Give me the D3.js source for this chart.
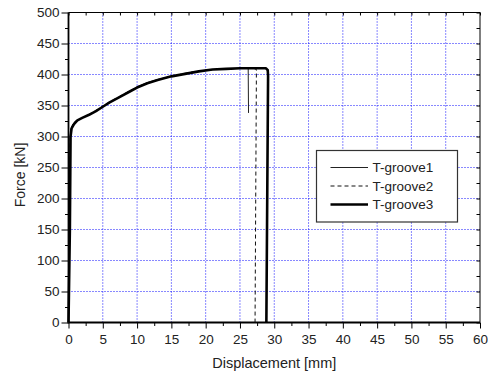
<!DOCTYPE html>
<html>
<head>
<meta charset="utf-8">
<script src="https://cdn.jsdelivr.net/npm/d3@7"></script>
<style>
  body { margin: 0; background: #fff; }
  svg { font-family: "Liberation Sans", Arial, sans-serif; }
</style>
</head>
<body>
<script>
var w = 488;
var h = 376;

// series: displacement [mm] and force [kN]
var g1Disp  = [0, 0.12, 0.22, 0.35, 0.6, 1.0, 2, 3, 4, 5, 6, 7.5, 9, 10, 11.5, 13, 15, 17, 19, 21, 23, 25, 26.2, 26.25];
var g1Force = [0, 150, 295, 312, 319, 325, 330, 335, 341, 348, 355, 364, 373, 380, 387, 392, 397, 401, 405, 408, 409, 410, 410, 338];

var g2Disp  = [0, 0.15, 0.25, 0.4, 0.7, 1.2, 2, 3, 4, 5, 6, 7.5, 9, 10, 11.5, 13, 15, 17, 19, 21, 23, 25, 27, 27.4, 27.2];
var g2Force = [0, 150, 300, 314, 320, 326, 330, 336, 342, 349, 356, 365, 374, 380, 386, 391, 397, 402, 406, 408, 409, 410, 410, 408, 0];

var g3Disp  = [0, 0.2, 0.3, 0.45, 0.8, 1.3, 2, 3, 4, 5, 6, 7.5, 9, 10, 11.5, 13, 15, 17, 19, 21, 23, 25, 27, 28.8, 29.05, 29.1, 28.85];
var g3Force = [0, 150, 300, 313, 320, 326, 330, 335, 341, 348, 355, 364, 373, 379, 386, 391, 397, 401, 405, 408, 409, 410, 410, 410, 407, 398, 0];

var seriesNames = ["T-groove1", "T-groove2", "T-groove3"];
var xTicks = [0, 5, 10, 15, 20, 25, 30, 35, 40, 45, 50, 55, 60];
var yTicks = [0, 50, 100, 150, 200, 250, 300, 350, 400, 450, 500];

var padL = 68.5, padR = 480, padT = 12.5, padB = 322.5;

var x = d3.scaleLinear().domain([0, 60]).range([padL, padR]);
var y = d3.scaleLinear().domain([0, 500]).range([padB, padT]);

var svg = d3.select("body")
            .append("svg")
              .attr("width", w)
              .attr("height", h);

svg.append("rect")
   .attr("width", w)
   .attr("height", h)
   .attr("fill", "#fff");

// dotted blue grid
svg.append("g")
   .selectAll("line")
   .data(xTicks.slice(1, -1))
   .enter()
   .append("line")
     .attr("x1", function(d) { return x(d); })
     .attr("x2", function(d) { return x(d); })
     .attr("y1", padT)
     .attr("y2", padB)
     .attr("stroke", "#1010ff")
     .attr("stroke-dasharray", "1,2");

svg.append("g")
   .selectAll("line")
   .data(yTicks.slice(1, -1))
   .enter()
   .append("line")
     .attr("x1", padL)
     .attr("x2", padR)
     .attr("y1", function(d) { return y(d); })
     .attr("y2", function(d) { return y(d); })
     .attr("stroke", "#1010ff")
     .attr("stroke-dasharray", "1,2");

// minor ticks
var xMinor = d3.range(2.5, 60, 5);
var yMinor = d3.range(25, 500, 50);

function styleAxis(g, fs) {
  g.select(".domain").remove();
  g.selectAll("line").attr("stroke", "#000");
  g.selectAll("text").attr("font-size", fs).attr("fill", "#222").attr("font-family", null);
}

svg.append("g")
   .attr("transform", "translate(0," + padB + ")")
   .call(d3.axisBottom(x).tickValues(xMinor).tickSize(3.5).tickFormat(""))
   .call(styleAxis, "13.5px");
svg.append("g")
   .attr("transform", "translate(0," + padB + ")")
   .call(d3.axisBottom(x).tickValues(xTicks).tickSize(6).tickPadding(6).tickFormat(d3.format("d")))
   .call(styleAxis, "13.5px");

svg.append("g")
   .attr("transform", "translate(" + padL + ",0)")
   .call(d3.axisLeft(y).tickValues(yMinor).tickSize(3.5).tickFormat(""))
   .call(styleAxis, "13.5px");
svg.append("g")
   .attr("transform", "translate(" + padL + ",0)")
   .call(d3.axisLeft(y).tickValues(yTicks).tickSize(7).tickPadding(2).tickFormat(d3.format("d")))
   .call(styleAxis, "13.5px");

// inward ticks on top and right
svg.append("g")
   .attr("transform", "translate(0," + padT + ")")
   .call(d3.axisTop(x).tickValues(xTicks.concat(xMinor)).tickSize(-3).tickFormat(""))
   .call(styleAxis, "13.5px");
svg.append("g")
   .attr("transform", "translate(" + padR + ",0)")
   .call(d3.axisRight(y).tickValues(yTicks.concat(yMinor)).tickSize(-3.5).tickFormat(""))
   .call(styleAxis, "13.5px");

// frame
svg.append("line").attr("x1", padL).attr("x2", padR).attr("y1", padT).attr("y2", padT)
   .attr("stroke", "#000").attr("stroke-width", 1);
svg.append("line").attr("x1", padR).attr("x2", padR).attr("y1", padT).attr("y2", padB)
   .attr("stroke", "#000").attr("stroke-width", 1);
svg.append("line").attr("x1", padL).attr("x2", padL).attr("y1", padT).attr("y2", padB + 0.8)
   .attr("stroke", "#000").attr("stroke-width", 1.8);
svg.append("line").attr("x1", padL - 0.8).attr("x2", padR).attr("y1", padB).attr("y2", padB)
   .attr("stroke", "#000").attr("stroke-width", 1.8);

// curves
var line = d3.line()
             .x(function(d) { return x(d[0]); })
             .y(function(d) { return y(d[1]); });

var curves = [
  {disp: g1Disp, force: g1Force, width: 1, dash: null, color: "#222"},
  {disp: g2Disp, force: g2Force, width: 1, dash: "4,3", color: "#111"},
  {disp: g3Disp, force: g3Force, width: 2.6, dash: null, color: "#000"}
];

svg.append("g")
   .selectAll("path")
   .data(curves)
   .enter()
   .append("path")
     .attr("d", function(d) { return line(d3.zip(d.disp, d.force)); })
     .attr("fill", "none")
     .attr("stroke", function(d) { return d.color; })
     .attr("stroke-width", function(d) { return d.width; })
     .attr("stroke-dasharray", function(d) { return d.dash; })
     .attr("stroke-linejoin", "round");

// legend
var legend = svg.append("g");
legend.append("rect")
      .attr("x", 316.5)
      .attr("y", 150.5)
      .attr("width", 141)
      .attr("height", 71.5)
      .attr("fill", "#fff")
      .attr("stroke", "#333")
      .attr("stroke-width", 1.2);

var items = legend.selectAll("g.item")
                  .data(curves)
                  .enter()
                  .append("g")
                    .attr("class", "item")
                    .attr("transform", function(d, i) { return "translate(0," + (167.5 + i * 18.5) + ")"; });

items.append("line")
     .attr("x1", 330.5)
     .attr("x2", 368)
     .attr("stroke", function(d) { return d.color; })
     .attr("stroke-width", function(d) { return d.width; })
     .attr("stroke-dasharray", function(d) { return d.dash; });

items.append("text")
     .text(function(d, i) { return seriesNames[i]; })
     .attr("x", 372.5)
     .attr("dy", "0.36em")
     .attr("font-size", "13.5px")
     .attr("fill", "#222");

// axis titles
svg.append("text")
   .text("Displacement [mm]")
   .attr("x", (padL + padR) / 2)
   .attr("y", 368)
   .attr("text-anchor", "middle")
   .attr("font-size", "14.5px")
   .attr("fill", "#222");

svg.append("text")
   .text("Force [kN]")
   .attr("transform", "translate(25,175) rotate(-90)")
   .attr("text-anchor", "middle")
   .attr("font-size", "14px")
   .attr("fill", "#222");
</script>
</body>
</html>
